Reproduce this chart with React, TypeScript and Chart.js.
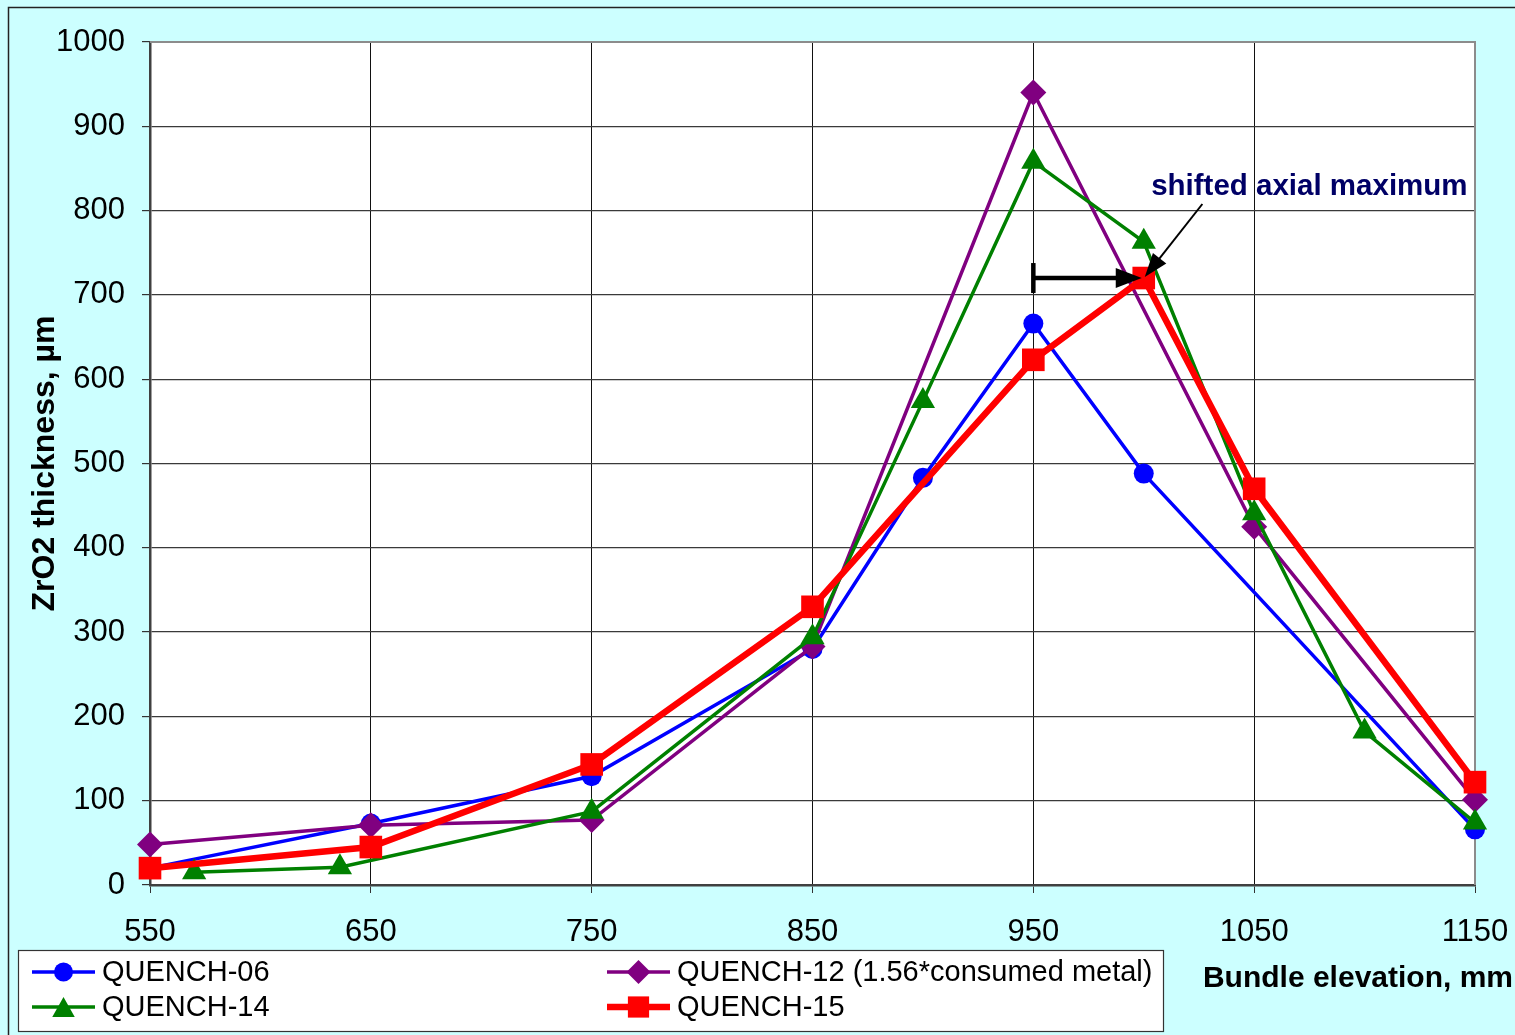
import React, { useEffect, useRef } from 'react';
import { Chart, registerables } from 'chart.js';

Chart.register(...registerables);

// ---- data ----
const xTickValues = [550, 650, 750, 850, 950, 1050, 1150];
const yTickValues = [0, 100, 200, 300, 400, 500, 600, 700, 800, 900, 1000];

const q06Elev = [550, 650, 750, 850, 900, 950, 1000, 1150];
const q06Thick = [20, 73, 129, 280, 483, 666, 488, 66];

const q12Elev = [550, 650, 750, 850, 950, 1050, 1150];
const q12Thick = [48, 71, 77, 283, 940, 425, 101];

const q14Elev = [570, 636, 750, 850, 900, 950, 1000, 1050, 1100, 1150];
const q14Thick = [15, 21, 87, 294, 574, 858, 763, 441, 182, 74];

const q15Elev = [550, 650, 750, 850, 950, 1000, 1050, 1150];
const q15Thick = [20, 45, 143, 330, 623, 720, 470, 122];

const seriesLabels = [
  'QUENCH-06',
  'QUENCH-12 (1.56*consumed metal)',
  'QUENCH-14',
  'QUENCH-15',
];
const annotationText = 'shifted axial maximum';
const xTitle = 'Bundle elevation, mm';
const yTitle = 'ZrO2 thickness, \u00b5m';

const FONT = '"Liberation Sans", Arial, Helvetica, sans-serif';

const pts = (xs: number[], ys: number[]) => xs.map((x, i) => ({ x, y: ys[i] }));

type Style = 'circle' | 'rectRot' | 'triangle' | 'rect';

function drawMarker(ctx: CanvasRenderingContext2D, style: Style, x: number, y: number, r: number, color: string) {
  ctx.save();
  ctx.fillStyle = color;
  ctx.beginPath();
  if (style === 'circle') {
    ctx.arc(x, y, r, 0, Math.PI * 2);
  } else if (style === 'rectRot') {
    ctx.moveTo(x - r, y);
    ctx.lineTo(x, y - r);
    ctx.lineTo(x + r, y);
    ctx.lineTo(x, y + r);
    ctx.closePath();
  } else if (style === 'triangle') {
    const h = r * 1.6;
    ctx.moveTo(x, y - h / 2);
    ctx.lineTo(x + r * 0.9, y + h / 2);
    ctx.lineTo(x - r * 0.9, y + h / 2);
    ctx.closePath();
  } else {
    const s = Math.SQRT1_2 * r;
    ctx.rect(x - s, y - s, 2 * s, 2 * s);
  }
  ctx.fill();
  ctx.restore();
}

function arrowHead(ctx: CanvasRenderingContext2D, fx: number, fy: number, tx: number, ty: number, len: number, half: number) {
  const a = Math.atan2(ty - fy, tx - fx);
  const bx = tx - Math.cos(a) * len;
  const by = ty - Math.sin(a) * len;
  ctx.beginPath();
  ctx.moveTo(tx, ty);
  ctx.lineTo(bx + Math.sin(a) * half, by - Math.cos(a) * half);
  ctx.lineTo(bx - Math.sin(a) * half, by + Math.cos(a) * half);
  ctx.closePath();
  ctx.fill();
}

const decorPlugin = {
  id: 'decor',
  beforeDraw(chart: any) {
    const { ctx, chartArea: a } = chart;
    ctx.save();
    ctx.fillStyle = '#CCFFFF';
    ctx.fillRect(0, 0, chart.width, chart.height);
    ctx.strokeStyle = '#222';
    ctx.lineWidth = 1.5;
    ctx.strokeRect(8.5, 7.5, 1600, 1100);
    ctx.fillStyle = '#FFFFFF';
    ctx.fillRect(a.left, a.top, a.right - a.left, a.bottom - a.top);
    ctx.restore();
  },
  beforeDatasetsDraw(chart: any) {
    const { ctx, chartArea: a } = chart;
    ctx.save();
    ctx.strokeStyle = '#8c8c8c';
    ctx.lineWidth = 2;
    ctx.beginPath();
    ctx.moveTo(a.left, a.top);
    ctx.lineTo(a.right, a.top);
    ctx.lineTo(a.right, a.bottom);
    ctx.stroke();
    ctx.restore();
  },
  afterDraw(chart: any) {
    const { ctx, chartArea: a } = chart;
    const xs = chart.scales.x;
    const ys = chart.scales.y;
    ctx.save();

    // axis titles
    ctx.fillStyle = '#000';
    ctx.font = `bold 30px ${FONT}`;
    ctx.textBaseline = 'middle';
    ctx.textAlign = 'right';
    ctx.fillText(xTitle, 1513, 979);
    ctx.save();
    ctx.translate(45, (a.top + a.bottom) / 2);
    ctx.rotate(-Math.PI / 2);
    ctx.textAlign = 'center';
    ctx.font = `bold 32px ${FONT}`;
    ctx.fillText(yTitle, 0, 0);
    ctx.restore();

    // annotation: shift of axial maximum
    const peakIdx = q15Thick.indexOf(Math.max(...q15Thick));
    const peakX = xs.getPixelForValue(q15Elev[peakIdx]);
    const peakY = ys.getPixelForValue(q15Thick[peakIdx]);
    const oldIdx = q06Thick.indexOf(Math.max(...q06Thick));
    const oldX = xs.getPixelForValue(q06Elev[oldIdx]);
    ctx.fillStyle = '#000';
    ctx.strokeStyle = '#000';
    ctx.lineWidth = 4.5;
    ctx.beginPath();
    ctx.moveTo(oldX, peakY - 15);
    ctx.lineTo(oldX, peakY + 15);
    ctx.stroke();
    ctx.beginPath();
    ctx.moveTo(oldX, peakY);
    ctx.lineTo(peakX - 20, peakY);
    ctx.stroke();
    arrowHead(ctx, oldX, peakY, peakX - 2, peakY, 26, 10);

    const tx = xs.getPixelForValue(1075);
    const ty = ys.getPixelForValue(828);
    ctx.font = `bold 29.5px ${FONT}`;
    ctx.fillStyle = '#000066';
    ctx.textAlign = 'center';
    ctx.textBaseline = 'middle';
    ctx.fillText(annotationText, tx, ty);
    const sx = tx - 107;
    const sy = ty + 17;
    const ex = peakX + 1;
    const ey = peakY - 1;
    ctx.fillStyle = '#000';
    ctx.lineWidth = 2;
    const ang = Math.atan2(ey - sy, ex - sx);
    ctx.beginPath();
    ctx.moveTo(sx, sy);
    ctx.lineTo(ex - Math.cos(ang) * 15, ey - Math.sin(ang) * 15);
    ctx.stroke();
    arrowHead(ctx, sx, sy, ex, ey, 24, 8.5);

    // legend
    const lx = 18, ly = 950, lw = 1145, lh = 81;
    ctx.fillStyle = '#FFFFFF';
    ctx.fillRect(lx, ly, lw, lh);
    ctx.strokeStyle = '#333';
    ctx.lineWidth = 1.2;
    ctx.strokeRect(lx + 0.5, ly + 0.5, lw, lh);
    const items = chart.data.datasets;
    const pos = [
      [32, 972],
      [607, 972],
      [32, 1007],
      [607, 1007],
    ];
    [0, 1, 2, 3].forEach((di, k) => {
      const ds = items[di];
      const [px, py] = pos[k];
      ctx.strokeStyle = ds.borderColor;
      ctx.lineWidth = ds.borderWidth;
      ctx.beginPath();
      ctx.moveTo(px, py);
      ctx.lineTo(px + 63, py);
      ctx.stroke();
      drawMarker(ctx, ds.pointStyle, px + 31.5, py, ds.legendR, ds.borderColor);
      ctx.fillStyle = '#000';
      ctx.font = `29px ${FONT}`;
      ctx.textAlign = 'left';
      ctx.textBaseline = 'middle';
      ctx.fillText(ds.label, px + 70, py + 1);
    });

    ctx.restore();
  },
};

export default function App() {
  const ref = useRef<HTMLCanvasElement>(null);

  useEffect(() => {
    const canvas = ref.current;
    if (!canvas) return;
    const mk = (label: string, data: any[], color: string, style: Style, r: number, w: number, lr: number, order: number) => ({
      label,
      data,
      borderColor: color,
      backgroundColor: color,
      pointBackgroundColor: color,
      pointBorderColor: color,
      pointBorderWidth: 0,
      pointStyle: style,
      pointRadius: r,
      pointHoverRadius: r,
      borderWidth: w,
      legendR: lr,
      showLine: true,
      fill: false,
      tension: 0,
      clip: false,
      order,
    });
    const chart = new Chart(canvas, {
      type: 'scatter',
      data: {
        datasets: [
          mk(seriesLabels[0], pts(q06Elev, q06Thick), '#0000FF', 'circle', 10, 3.5, 9.5, 4),
          mk(seriesLabels[1], pts(q12Elev, q12Thick), '#800080', 'rectRot', 13, 3.5, 12, 3),
          mk(seriesLabels[2], pts(q14Elev, q14Thick), '#008000', 'triangle', 14, 3.5, 12.5, 2),
          mk(seriesLabels[3], pts(q15Elev, q15Thick), '#FF0000', 'rect', 16, 6.5, 15, 1),
        ] as any,
      },
      options: {
        animation: false,
        responsive: false,
        devicePixelRatio: 1,
        layout: { padding: { left: 0, right: 40, top: 42, bottom: 0 } },
        plugins: {
          legend: { display: false },
          tooltip: { enabled: false },
          title: { display: false },
        },
        events: [],
        scales: {
          x: {
            type: 'linear',
            min: 550,
            max: 1150,
            afterFit: (s: any) => { s.height = 150; s.paddingLeft = 0; s.paddingRight = 0; },
            afterBuildTicks: (s: any) => { s.ticks = xTickValues.map((v) => ({ value: v })); },
            ticks: {
              stepSize: 100,
              autoSkip: false,
              maxRotation: 0,
              padding: 21,
              color: '#000',
              font: { family: FONT, size: 31 },
              callback: (v: any) => String(v),
            },
            grid: { color: '#111', lineWidth: 1, tickLength: 8, tickColor: '#333' },
            border: { color: '#404040', width: 2.5 },
          },
          y: {
            type: 'linear',
            min: 0,
            max: 1000,
            afterFit: (s: any) => { s.width = 150; s.paddingTop = 0; s.paddingBottom = 0; },
            afterBuildTicks: (s: any) => { s.ticks = yTickValues.map((v) => ({ value: v })); },
            ticks: {
              stepSize: 100,
              autoSkip: false,
              padding: 17,
              color: '#000',
              font: { family: FONT, size: 31 },
              callback: (v: any) => String(v),
            },
            grid: { color: '#3a3a3a', lineWidth: 1.2, tickLength: 8, tickColor: '#333' },
            border: { color: '#404040', width: 2.5 },
          },
        },
      } as any,
      plugins: [decorPlugin as any],
    });
    return () => chart.destroy();
  }, []);

  return (
    <div style={{ position: 'absolute', left: 0, top: 0, width: 1515, height: 1035 }}>
      <canvas ref={ref} width={1515} height={1035} style={{ display: 'block', width: 1515, height: 1035 }} />
    </div>
  );
}
